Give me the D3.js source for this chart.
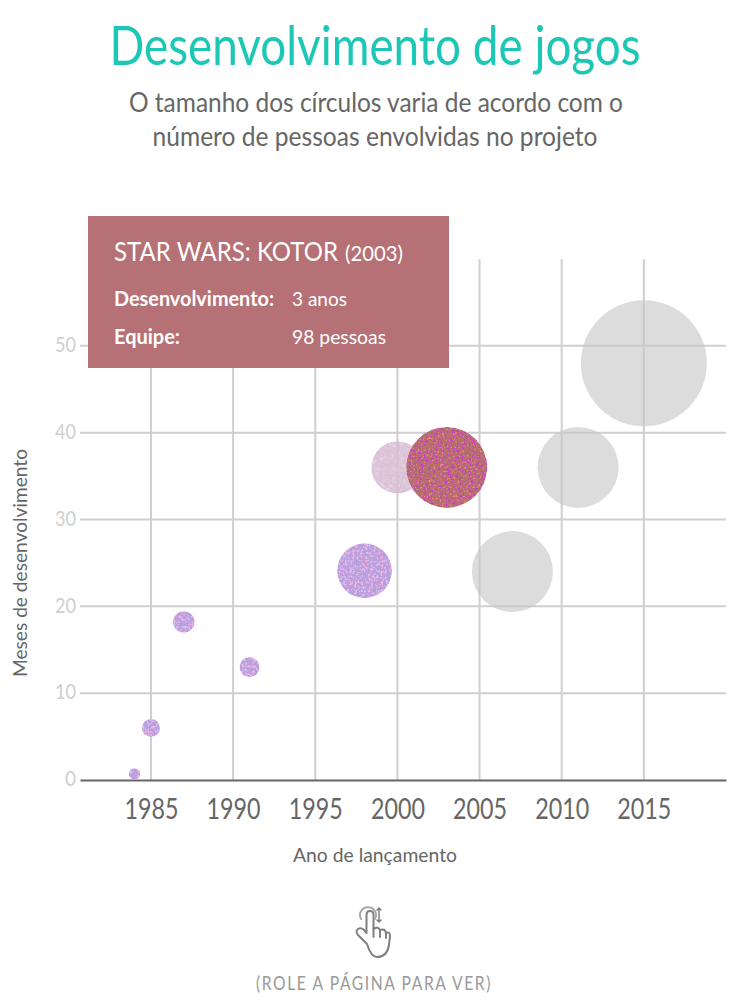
<!DOCTYPE html>
<html>
<head>
  <meta charset="UTF-8">
  <style>
    html, body { margin: 0; padding: 0; background: #fff; }
    svg { display: block; }
    text { font-family: Lato, "Open Sans", sans-serif; }
  </style>
</head>
<body>
  <svg></svg>
<script src="https://d3js.org/d3.v7.min.js"></script>
<script>

// chart values
let years  = [1984, 1985, 1987, 1991, 1998, 2000, 2003, 2007, 2011, 2015];
let months = [0.7, 6, 18.2, 13, 24.1, 36, 36, 24, 36, 48];
let team   = [2, 5, 7, 6, 45, 41, 98, 98, 98, 237];
let looks  = ["seen", "seen", "seen", "seen", "seen", "faded", "active", "next", "next", "next"];

let xTicks = [1985, 1990, 1995, 2000, 2005, 2010, 2015];
let yTicks = [0, 10, 20, 30, 40, 50];

let width = 750,
    height = 1000;

let svg = d3.select("svg")
    .attr("width", width)
    .attr("height", height);

let x = d3.scaleLinear().domain([1980.68, 2020]).range([80, 726]);
let y = d3.scaleLinear().domain([0, 60]).range([780, 259]);
let r = d3.scaleSqrt().domain([0, 98]).range([0, 40.5]);

// squeezes a text to the width it has in the picture
function fit(sel, w) {
  return sel.attr("textLength", w).attr("lengthAdjust", "spacingAndGlyphs");
}

function put(str, px, py, size, w, color, anchor, weight) {
  return fit(svg.append("text")
    .attr("x", px)
    .attr("y", py)
    .attr("font-size", size)
    .attr("fill", color)
    .attr("text-anchor", anchor || "start")
    .attr("font-weight", weight || 400)
    .text(str), w);
}

// same thing with a transform, so the box of the text shrinks too
function putScaled(str, px, py, size, w, color) {
  let t = svg.append("text")
    .attr("font-size", size)
    .attr("fill", color)
    .text(str);
  let k = w / t.node().getComputedTextLength();
  return t.attr("transform", "translate(" + px + "," + py + ") scale(" + k + ",1)");
}

// glitter fill: flat circle colour plus thresholded noise layers
let defs = svg.append("defs");

function glitter(id, seed, layers) {
  let f = defs.append("filter")
    .attr("id", id)
    .attr("x", "0%").attr("y", "0%").attr("width", "100%").attr("height", "100%")
    .attr("color-interpolation-filters", "sRGB");
  layers.forEach((l, i) => {
    f.append("feTurbulence")
      .attr("type", "fractalNoise")
      .attr("baseFrequency", l.freq)
      .attr("numOctaves", 2)
      .attr("seed", seed + i)
      .attr("result", "n" + i);
    f.append("feColorMatrix")
      .attr("in", "n" + i)
      .attr("type", "matrix")
      .attr("values", "0 0 0 0 0  0 0 0 0 0  0 0 0 0 0  " + l.gain + " 0 0 0 " + (-l.gain * l.cut))
      .attr("result", "m" + i);
    f.append("feFlood").attr("flood-color", l.color).attr("result", "c" + i);
    f.append("feComposite").attr("in", "c" + i).attr("in2", "m" + i).attr("operator", "in").attr("result", "h" + i);
    f.append("feGaussianBlur").attr("in", "h" + i).attr("stdDeviation", 0.4).attr("result", "s" + i);
  });
  let merge = f.append("feMerge").attr("result", "all");
  merge.append("feMergeNode").attr("in", "SourceGraphic");
  layers.forEach((l, i) => merge.append("feMergeNode").attr("in", "s" + i));
  f.append("feComposite").attr("in", "all").attr("in2", "SourceAlpha").attr("operator", "in");
}

glitter("seen", 3, [
  {freq: 0.38, gain: 7, cut: 0.53, color: "#f4aee0"},
  {freq: 0.42, gain: 7, cut: 0.58, color: "#d8c4f0"}
]);
glitter("faded", 8, [
  {freq: 0.25, gain: 5, cut: 0.57, color: "#e6cee2"},
  {freq: 0.3, gain: 5, cut: 0.6, color: "#cfaecb"}
]);
glitter("active", 5, [
  {freq: 0.45, gain: 8, cut: 0.6, color: "#ee8a78"},
  {freq: 0.42, gain: 8, cut: 0.55, color: "#cb3ccc"}
]);

let fills = {seen: "#b8a0de", faded: "#d8bcd4", active: "#b5706f", next: "#c4c4c4"};
let alphas = {seen: 1, faded: 0.85, active: 1, next: 0.6};

// grid
let gridColor = "#cfcfcf";

svg.append("g").selectAll("line")
  .data(xTicks)
  .enter()
  .append("line")
    .attr("x1", d => x(d)).attr("x2", d => x(d))
    .attr("y1", y(60)).attr("y2", y(0))
    .attr("stroke", gridColor)
    .attr("stroke-width", 2);

svg.append("g").selectAll("line")
  .data(yTicks.slice(1))
  .enter()
  .append("line")
    .attr("x1", 80).attr("x2", 726)
    .attr("y1", d => y(d)).attr("y2", d => y(d))
    .attr("stroke", gridColor)
    .attr("stroke-width", 2);

// axes
let xAxis = svg.append("g")
  .attr("transform", "translate(0," + y(0) + ")")
  .call(d3.axisBottom(x).tickValues(xTicks).tickFormat(d3.format("d")).tickSize(0).tickPadding(39));
xAxis.select(".domain").attr("stroke", "#666").attr("stroke-width", 2);
xAxis.selectAll("text")
  .attr("dy", 0)
  .attr("fill", "#666")
  .attr("font-size", 28)
  .call(fit, 54);

let yAxis = svg.append("g")
  .attr("transform", "translate(76,0)")
  .call(d3.axisLeft(y).tickValues(yTicks).tickSize(0).tickPadding(0));
yAxis.select(".domain").remove();
yAxis.selectAll("text")
  .attr("dy", "0.27em")
  .attr("fill", "#cfcfcf")
  .attr("font-size", 21);
yAxis.selectAll("text").filter(d => d > 0).call(fit, 21);
yAxis.selectAll("text").filter(d => d === 0).call(fit, 11);

// circles, drawn in order so the active one sits on top
let rows = years.map((d, i) => ({year: d, months: months[i], team: team[i], look: looks[i]}));
let order = ["next", "seen", "faded", "active"];

svg.append("g").selectAll("circle")
  .data(rows.slice().sort((a, b) => order.indexOf(a.look) - order.indexOf(b.look)))
  .enter()
  .append("circle")
    .attr("cx", d => x(d.year))
    .attr("cy", d => y(d.months))
    .attr("r", d => r(d.team))
    .attr("fill", d => fills[d.look])
    .attr("opacity", d => alphas[d.look])
    .attr("filter", d => d.look === "next" ? null : "url(#" + d.look + ")");

// axis titles
put("Ano de lançamento", 375, 862, 19, 164, "#666", "middle");
fit(svg.append("text")
  .attr("transform", "translate(27,563) rotate(-90)")
  .attr("text-anchor", "middle")
  .attr("font-size", 19)
  .attr("fill", "#666")
  .text("Meses de desenvolvimento"), 228);

// headings
put("Desenvolvimento de jogos", 375, 65, 54, 531, "#1cc7b5", "middle");
put("O tamanho dos círculos varia de acordo com o", 376, 112, 27, 494, "#666", "middle");
put("número de pessoas envolvidas no projeto", 375, 146, 27, 445, "#666", "middle");

// tooltip box
svg.append("rect")
  .attr("x", 88).attr("y", 216)
  .attr("width", 361).attr("height", 152)
  .attr("fill", "#b57175");
putScaled("STAR WARS: KOTOR", 114, 261, 27, 224, "#fff");
putScaled("(2003)", 345, 261, 21, 58, "#fff");
put("Desenvolvimento:", 114, 306, 20, 160, "#fff", "start", 700);
put("3 anos", 292, 306, 20, 55, "#fff");
put("Equipe:", 114, 344, 20, 66, "#fff", "start", 700);
put("98 pessoas", 292, 344, 20, 94, "#fff");

// scroll hint
let hand = svg.append("g")
  .attr("fill", "none")
  .attr("stroke", "#808080")
  .attr("stroke-width", 2)
  .attr("stroke-linecap", "round")
  .attr("stroke-linejoin", "round");
hand.append("path").attr("d", "M367 944 L358 935 Q355 931 358 929 Q361 927 364 930 L366.500 933 L366.500 915 Q366.500 911 370 911 Q373.500 911 373.500 915 L373.500 929 Q378 926 380 930 Q385 928 386 933 Q390 931 390 936 L389 945 Q387 957 377 957 Q371 957 367 944 Z");
hand.append("path").attr("d", "M373.500 929 L373.500 937 M380 930 L380 937 M386 933 L386 938");
hand.append("path").attr("d", "M361 919 A8 8 0 1 1 375 919").attr("stroke", "#a8a8a8");
hand.append("path").attr("d", "M379 908 L379 922 M377 910 L379 908 L381 910 M377 920 L379 922 L381 920").attr("stroke-width", 1.500);

put("(ROLE A PÁGINA PARA VER)", 374, 990, 20, 236, "#999", "middle").attr("letter-spacing", 2);

</script>
</body>
</html>
